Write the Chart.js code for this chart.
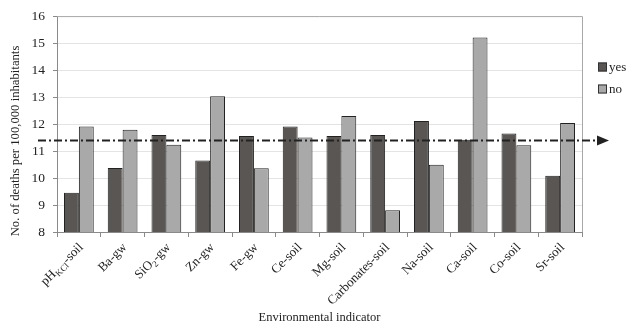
<!DOCTYPE html>
<html>
<head>
<meta charset="utf-8">
<script src="https://cdn.jsdelivr.net/npm/chart.js@4"></script>
<style>
  html, body { margin: 0; padding: 0; background: #fff; }
  #wrap { width: 640px; height: 329px; position: relative; }
</style>
</head>
<body>
<div id="wrap"><canvas id="deaths-chart"></canvas></div>
<script>
// categories (subscript parts marked as _{...})
const categories = [
  'pH_{KCl}-soil', 'Ba-gw', 'SiO_{2}-gw', 'Zn-gw', 'Fe-gw', 'Ce-soil',
  'Mg-soil', 'Carbonates-soil', 'Na-soil', 'Ca-soil', 'Co-soil', 'Sr-soil'
];
const yesValues = [9.45, 10.37, 11.59, 10.65, 11.56, 11.91, 11.56, 11.59, 12.11, 11.42, 11.65, 10.08];
const noValues  = [11.91, 11.79, 11.23, 13.03, 10.36, 11.50, 12.30, 8.81, 10.49, 15.21, 11.21, 12.04];
const refValue = 11.42;
const seriesNames = ['yes', 'no'];
const yTicks = [8, 9, 10, 11, 12, 13, 14, 15, 16];

const SERIF = '"Liberation Serif", "Times New Roman", serif';
const YES_COLOR = '#5a5653';
const NO_COLOR = '#a9a9a9';

// split 'SiO_{2}-gw' into [{t:'SiO'},{t:'2',sub:true},{t:'-gw'}]
function parseLabel(s) {
  const parts = [];
  const re = /_\{([^}]*)\}/g;
  let last = 0, m;
  while ((m = re.exec(s)) !== null) {
    if (m.index > last) parts.push({ t: s.slice(last, m.index) });
    parts.push({ t: m[1], sub: true });
    last = re.lastIndex;
  }
  if (last < s.length) parts.push({ t: s.slice(last) });
  return parts;
}

const extras = {
  id: 'extras',
  afterDraw(chart) {
    const ctx = chart.ctx;
    const area = chart.chartArea;
    const xs = chart.scales.x;
    const ys = chart.scales.y;

    // plot frame (top + right)
    ctx.save();
    ctx.strokeStyle = '#a8a8a8';
    ctx.lineWidth = 1;
    ctx.beginPath();
    ctx.moveTo(area.left, area.top + 0.5);
    ctx.lineTo(area.right + 0.5, area.top + 0.5);
    ctx.lineTo(area.right + 0.5, area.bottom);
    ctx.stroke();
    ctx.restore();

    // rotated category labels with subscripts
    ctx.save();
    ctx.fillStyle = '#222';
    ctx.textBaseline = 'alphabetic';
    categories.forEach((c, i) => {
      const parts = parseLabel(c);
      const big = '13px ' + SERIF;
      const small = '9px ' + SERIF;
      let total = 0;
      parts.forEach(p => {
        ctx.font = p.sub ? small : big;
        p.w = ctx.measureText(p.t).width;
        total += p.w;
      });
      const x = xs.getPixelForValue(i);
      ctx.save();
      ctx.translate(x + 2, area.bottom + 13);
      ctx.rotate(-Math.PI / 4);
      let cx = -total;
      parts.forEach(p => {
        ctx.font = p.sub ? small : big;
        ctx.fillText(p.t, cx, p.sub ? 7 : 4);
        cx += p.w;
      });
      ctx.restore();
    });
    ctx.restore();

    // y axis title
    ctx.save();
    ctx.fillStyle = '#222';
    ctx.font = '12.7px ' + SERIF;
    ctx.textAlign = 'center';
    ctx.textBaseline = 'middle';
    ctx.translate(16, 141);
    ctx.rotate(-Math.PI / 2);
    ctx.fillText('No. of deaths per 100,000 inhabitants', 0, 0);
    ctx.restore();

    // reference line with arrow
    const ry = Math.round(ys.getPixelForValue(refValue)) + 0.5;
    ctx.save();
    ctx.strokeStyle = '#222';
    ctx.fillStyle = '#222';
    ctx.lineWidth = 2;
    ctx.setLineDash([8, 3, 2, 3]);
    ctx.beginPath();
    ctx.moveTo(38, ry);
    ctx.lineTo(600, ry);
    ctx.stroke();
    ctx.setLineDash([]);
    ctx.beginPath();
    ctx.moveTo(609, ry);
    ctx.lineTo(597, ry - 5);
    ctx.lineTo(597, ry + 5);
    ctx.closePath();
    ctx.fill();
    ctx.restore();

    // legend
    ctx.save();
    ctx.font = '13px ' + SERIF;
    ctx.textBaseline = 'middle';
    [YES_COLOR, NO_COLOR].forEach((col, k) => {
      const cy = 67 + k * 22;
      ctx.fillStyle = col;
      ctx.fillRect(598, cy - 4.5, 9, 9);
      ctx.strokeStyle = '#333';
      ctx.lineWidth = 1;
      ctx.strokeRect(598.5, cy - 4, 8, 8);
      ctx.fillStyle = '#222';
      ctx.fillText(seriesNames[k], 609, cy + 1);
    });
    ctx.restore();
  }
};

const config = {
  type: 'bar',
  data: {
    labels: categories,
    datasets: [
      {
        label: seriesNames[0],
        data: yesValues,
        backgroundColor: YES_COLOR,
        borderColor: '#222',
        borderWidth: 1,
        borderSkipped: false,
      },
      {
        label: seriesNames[1],
        data: noValues,
        backgroundColor: NO_COLOR,
        borderColor: '#222',
        borderWidth: 1,
        borderSkipped: false,
      },
    ],
  },
  options: {
    responsive: true,
    maintainAspectRatio: false,
    animation: false,
    layout: { padding: { top: 12, right: 58, left: 0, bottom: 0 } },
    categoryPercentage: 0.68,
    barPercentage: 1.0,
    plugins: {
      legend: { display: false },
      tooltip: { enabled: false },
    },
    scales: {
      x: {
        grid: {
          display: true,
          drawOnChartArea: false,
          drawTicks: true,
          tickLength: 5,
          color: '#8a8a8a',
        },
        border: { color: '#8a8a8a' },
        ticks: { display: false },
        title: {
          display: true,
          text: 'Environmental indicator',
          color: '#222',
          font: { family: SERIF, size: 12.5 },
          padding: { top: 0, bottom: 4 },
        },
        afterFit(scale) { scale.height = 97; },
      },
      y: {
        min: 8,
        max: 16,
        afterBuildTicks(scale) { scale.ticks = yTicks.map(v => ({ value: v })); },
        grid: {
          color: '#e4e4e4',
          tickColor: '#8a8a8a',
          tickLength: 4,
        },
        border: { color: '#8a8a8a' },
        ticks: {
          color: '#222',
          padding: 8,
          font: { family: SERIF, size: 13.5 },
        },
        afterFit(scale) { scale.width = 57; },
      },
    },
  },
  plugins: [extras],
};

const deathsChart = new Chart(document.getElementById('deaths-chart'), config);
</script>
</body>
</html>
